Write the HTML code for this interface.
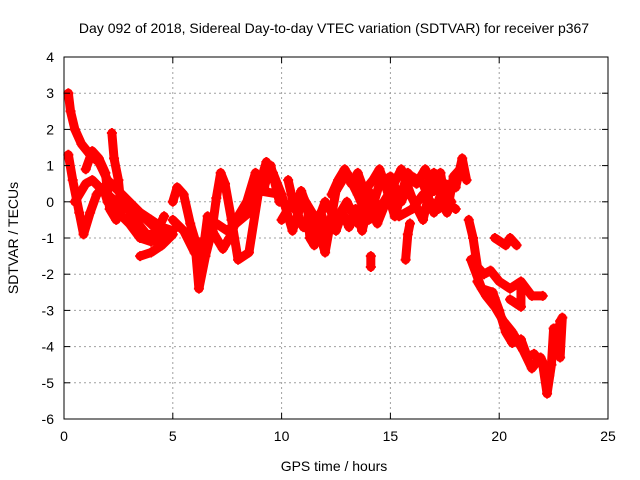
<!DOCTYPE html>
<html><head><meta charset="utf-8"><style>
body{margin:0;background:#fff}
svg{display:block;font-family:"Liberation Sans",sans-serif}
</style></head><body>
<svg id="chart" width="640" height="480">
<text x="334" y="33" font-size="14" text-anchor="middle">Day 092 of 2018, Sidereal Day-to-day VTEC variation (SDTVAR) for receiver p367</text>
<text x="334" y="471" font-size="14" text-anchor="middle">GPS time / hours</text>
<text x="18" y="238" font-size="14" text-anchor="middle" transform="rotate(-90 18 238)">SDTVAR / TECUs</text>
<g id="grid"></g><g id="marks"></g><g id="axes"></g>
</svg>
<script>
const xTicks=[0,5,10,15,20,25];
const yTicks=[4,3,2,1,0,-1,-2,-3,-4,-5,-6];
const traceA=[[0.2,3.0],[0.3,2.5],[0.5,2.0],[0.8,1.6],[1.2,1.3],[1.6,1.1],[2.0,0.6],[2.5,0.3],[3.0,0.0],[3.5,-0.3],[4.0,-0.5],[4.5,-0.7],[5.0,-0.8]];
const traceB=[[0.2,1.3],[0.4,0.6],[0.7,-0.3],[0.9,-0.9],[1.2,-0.3],[1.5,0.2],[1.8,0.4],[2.0,0.0],[2.5,-0.3],[3.0,-0.6],[3.5,-1.0],[4.0,-1.1],[4.5,-1.0],[5.0,-0.8]];
const traceB2=[[3.5,-1.5],[4.0,-1.4],[4.5,-1.2],[5.0,-0.9]];
const traceC=[[0.5,0.0],[1.0,0.5],[1.3,0.6],[1.8,0.3],[2.2,0.1],[2.6,-0.2],[3.2,-0.2],[3.8,-0.5],[4.5,-0.9]];
const traceC2=[[1.0,0.9],[1.3,1.4],[1.6,1.2],[1.9,0.8],[2.1,-0.2],[2.4,-0.5],[2.8,0.1],[3.1,-0.4],[3.4,-0.6],[3.8,-0.9],[4.2,-0.9],[4.6,-0.4]];
const traceSpike=[[2.2,1.9],[2.3,1.2],[2.5,0.6],[2.6,0.0]];
const traceD=[[5.0,0.0],[5.2,0.4],[5.5,0.2],[5.8,-0.6],[6.0,-1.0],[6.2,-2.4],[6.5,-1.5],[6.8,-0.8],[7.0,0.1],[7.2,0.8],[7.4,0.5],[7.7,-0.5],[8.0,-1.6],[8.5,-1.4],[9.0,0.5],[9.3,1.1],[9.6,0.8],[10.0,0.2]];
const traceD2=[[6.3,-1.8],[6.6,-0.4],[6.9,-0.9],[7.3,-1.3],[7.6,-1.0],[8.0,-0.4],[8.4,0.0],[8.8,0.8],[9.2,0.4],[9.5,1.0],[9.9,0.0]];
const traceE=[[5.0,-0.5],[5.5,-0.8],[6.0,-1.4],[6.5,-1.0],[7.0,-0.6],[7.5,-0.8],[8.5,-0.3],[9.0,0.3],[10.0,0.2],[10.5,-0.8],[11.0,0.1],[11.5,-0.4],[12.0,-1.4],[12.5,0.3],[13.0,0.8],[13.5,0.2],[14.0,-0.5],[14.5,0.5],[15.0,0.7],[15.5,0.0],[16.0,0.7],[16.5,0.5],[17.0,-0.3],[17.5,0.5],[18.0,0.4],[18.3,1.2],[18.5,0.6]];
const traceF=[[10.0,-0.5],[10.5,0.0],[11.0,-0.7],[11.5,-0.8],[12.0,0.0],[12.5,-0.5],[13.0,0.0],[13.5,-0.6],[14.0,0.3],[14.5,-0.2],[15.0,0.3],[15.5,0.9],[16.0,0.1],[16.5,-0.5],[17.0,0.8],[17.5,0.0],[18.0,-0.2]];
const traceM=[[12.3,0.2],[12.6,0.6],[12.9,0.9],[13.2,0.5],[13.5,0.8],[13.8,0.3],[14.2,0.6],[14.5,0.9],[14.8,0.4],[15.2,-0.4],[15.5,0.2],[15.8,0.8],[16.2,0.5],[16.6,0.9],[17.0,0.3],[17.3,0.8],[17.6,-0.3],[17.9,0.7],[18.2,0.9]];
const traceN=[[12.5,-0.8],[12.8,-0.3],[13.1,-0.7],[13.4,-0.2],[13.7,-0.8],[14.0,-0.1],[14.4,-0.6],[14.8,0.0],[15.1,0.1],[15.4,-0.4],[16.0,-0.2],[16.5,0.2],[17.2,-0.2],[17.8,0.0]];
const traceO=[[10.3,0.6],[10.6,-0.2],[10.9,0.3],[11.2,-0.2],[11.3,-1.0],[11.5,-1.2],[11.8,-0.3],[12.1,-0.8]];
const traceG=[[14.1,-1.5],[14.1,-1.8]];
const traceH=[[15.7,-1.6],[15.8,-0.9],[15.9,-0.6]];
const traceI=[[18.6,-0.5],[18.8,-1.0],[19.0,-1.8],[19.3,-2.0],[19.6,-1.9],[20.0,-2.2],[20.5,-2.4],[21.0,-2.2],[21.5,-2.6],[22.0,-2.6]];
const traceJ=[[18.7,-1.6],[19.2,-2.4],[19.7,-2.5],[20.0,-3.0],[20.3,-3.6],[20.6,-3.9],[21.0,-3.8],[21.3,-4.3],[21.6,-4.2],[22.0,-4.5],[22.2,-5.3],[22.4,-4.5],[22.5,-3.5],[22.7,-4.2],[22.8,-3.3]];
const traceJ2=[[19.0,-2.2],[19.4,-2.6],[19.8,-2.9],[20.2,-3.3],[20.6,-3.6],[21.1,-4.1],[21.5,-4.6],[21.9,-4.3],[22.3,-4.8]];
const traceJ3=[[22.6,-3.5],[22.8,-4.3],[22.9,-3.2]];
const traceK=[[19.8,-1.0],[20.3,-1.2],[20.5,-1.0],[20.8,-1.2]];
const traceL=[[20.5,-2.7],[21.0,-2.9],[21.0,-2.3]];
const traces=[traceA,traceB,traceB2,traceC,traceC2,traceSpike,traceD,traceD2,traceE,traceF,traceM,traceN,traceO,traceG,traceH,traceI,traceJ,traceJ2,traceJ3,traceK,traceL];
const L=64,R=608,T=57,B=419,xMin=0,xMax=25,yMin=-6,yMax=4;
const sx=v=>L+(v-xMin)/(xMax-xMin)*(R-L);
const sy=v=>B-(v-yMin)/(yMax-yMin)*(B-T);
const NS="http://www.w3.org/2000/svg";
function mk(tag,attrs,parent){const e=document.createElementNS(NS,tag);for(const k in attrs)e.setAttribute(k,attrs[k]);parent.appendChild(e);return e;}
const grid=document.getElementById('grid'),axes=document.getElementById('axes'),marks=document.getElementById('marks');
xTicks.forEach(t=>{
  if(t>xMin&&t<xMax){const g=mk('line',{x1:sx(t),x2:sx(t),y1:T,y2:B,stroke:'#a0a0a0','stroke-dasharray':'2,3'},grid);
  
  }
  const tx=mk('text',{x:sx(t),y:B+22,'font-size':14,'text-anchor':'middle'},axes);tx.textContent=t;
  
  
  mk('line',{x1:sx(t),x2:sx(t),y1:B,y2:B-6,stroke:'#000'},axes);
  mk('line',{x1:sx(t),x2:sx(t),y1:T,y2:T+6,stroke:'#000'},axes);
});
yTicks.forEach(t=>{
  if(t>yMin&&t<yMax){const g=mk('line',{x1:L,x2:R,y1:sy(t),y2:sy(t),stroke:'#a0a0a0','stroke-dasharray':'2,3'},grid);
  
  }
  const tx=mk('text',{x:L-10,y:sy(t)+5,'font-size':14,'text-anchor':'end'},axes);tx.textContent=t;
  
  
  mk('line',{x1:L,x2:L+6,y1:sy(t),y2:sy(t),stroke:'#000'},axes);
  mk('line',{x1:R,x2:R-6,y1:sy(t),y2:sy(t),stroke:'#000'},axes);
});
const fr=mk('rect',{x:L,y:T,width:R-L,height:B-T,fill:'none',stroke:'#000'},axes);


traces.forEach(tr=>{
  const pl=mk('polyline',{points:tr.map(p=>sx(p[0])+','+sy(p[1])).join(' '),fill:'none',stroke:'#ff0000','stroke-width':9,'stroke-linejoin':'round','stroke-linecap':'round'},marks);
  
  
  tr.forEach(p=>{
    const x=sx(p[0]),y=sy(p[1]);
    const m=mk('path',{d:`M${x-5},${y}H${x+5}M${x},${y-5}V${y+5}`,stroke:'#ff0000','stroke-width':2},marks);
    
    
  });
});
</script>
</body></html>
